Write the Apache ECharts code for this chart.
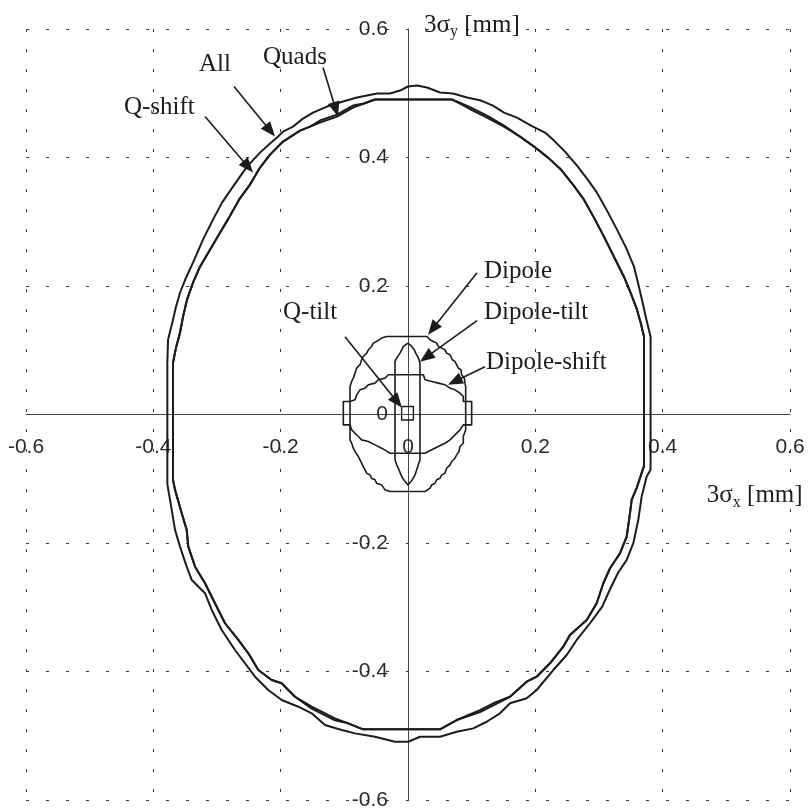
<!DOCTYPE html>
<html><head><meta charset="utf-8">
<script src="https://cdn.jsdelivr.net/npm/echarts@6/dist/echarts.min.js"></script>
<style>html,body{margin:0;padding:0;background:#fff}#c{width:808px;height:809px}</style>
</head><body><div id="c"></div>
<script>
// ---- axis ticks (mm) ----
const xTickValues = [-0.6, -0.4, -0.2, 0, 0.2, 0.4, 0.6];
const yTickValues = [-0.6, -0.4, -0.2, 0, 0.2, 0.4, 0.6];

// ---- envelopes: [3σx, 3σy] in mm ----
const allEnvelope = [
[-0.0126,0.5042],[0,0.5105],[0.0141,0.5120],[0.0298,0.5089],[0.0503,0.5011],[0.0707,0.4995],[0.0927,0.4933],[0.1147,0.4886],[0.1335,0.4808],[0.1508,0.4699],[0.1712,0.4621],[0.1932,0.4497],[0.2152,0.4388],[0.2293,0.4263],[0.2466,0.4092],[0.2654,0.3874],[0.2811,0.3671],[0.2968,0.3453],[0.3126,0.3173],[0.3283,0.2877],[0.3424,0.2597],[0.3550,0.2301],[0.3612,0.2052],[0.3675,0.1787],[0.3738,0.1506],[0.3810,0.1210],[0.3810,-0.0861],[0.3749,-0.0966],[0.3670,-0.1277],[0.3617,-0.1640],[0.3539,-0.2003],[0.3435,-0.2263],[0.3298,-0.2466],[0.3180,-0.2704],[0.3051,-0.2991],[0.2859,-0.3249],[0.2650,-0.3509],[0.2493,-0.3743],[0.2282,-0.3977],[0.2021,-0.4288],[0.1864,-0.4417],[0.1602,-0.4495],[0.1445,-0.4651],[0.1236,-0.4782],[0.1026,-0.4885],[0.0765,-0.4938],[0.0503,-0.5016],[0.0188,-0.5016],[0.0005,-0.5093],[-0.0204,-0.5093],[-0.0518,-0.5016],[-0.0832,-0.4963],[-0.1041,-0.4911],[-0.1304,-0.4833],[-0.1512,-0.4651],[-0.1723,-0.4548],[-0.1984,-0.4444],[-0.2194,-0.4288],[-0.2403,-0.4081],[-0.2560,-0.3872],[-0.2717,-0.3665],[-0.2926,-0.3354],[-0.3083,-0.3042],[-0.3188,-0.2782],[-0.3397,-0.2575],[-0.3476,-0.2368],[-0.3581,-0.2056],[-0.3659,-0.1796],[-0.3711,-0.1484],[-0.3765,-0.1173],[-0.3780,-0.1079],[-0.3780,0.0806],[-0.3769,0.1164],[-0.3691,0.1475],[-0.3644,0.1677],[-0.3581,0.1895],[-0.3487,0.2129],[-0.3377,0.2363],[-0.3220,0.2721],[-0.3063,0.3033],[-0.2921,0.3298],[-0.2749,0.3547],[-0.2529,0.3858],[-0.2324,0.4076],[-0.2167,0.4217],[-0.2057,0.4310],[-0.1963,0.4403],[-0.1806,0.4481],[-0.1649,0.4606],[-0.1492,0.4699],[-0.1272,0.4793],[-0.1021,0.4871],[-0.0801,0.4933],[-0.0644,0.4964],[-0.0487,0.4995],[-0.0283,0.4995],[-0.0126,0.5042]
];
const quadsEnvelope = [
[-0.0518,0.4902],[0.0691,0.4902],[0.0848,0.4824],[0.0989,0.4746],[0.1241,0.4621],[0.1508,0.4481],[0.1759,0.4326],[0.1979,0.4170],[0.2199,0.3998],[0.2403,0.3812],[0.2592,0.3578],[0.2764,0.3344],[0.2921,0.3064],[0.3078,0.2768],[0.3235,0.2456],[0.3392,0.2145],[0.3502,0.1880],[0.3597,0.1631],[0.3659,0.1413],[0.3707,0.1210],[0.3707,-0.0799],[0.3600,-0.1121],[0.3513,-0.1329],[0.3487,-0.1536],[0.3435,-0.1900],[0.3330,-0.2159],[0.3173,-0.2393],[0.3068,-0.2626],[0.2964,-0.2938],[0.2807,-0.3198],[0.2544,-0.3431],[0.2439,-0.3614],[0.2230,-0.3872],[0.2021,-0.4081],[0.1864,-0.4159],[0.1602,-0.4393],[0.1340,-0.4495],[0.1131,-0.4600],[0.0765,-0.4755],[0.0503,-0.4900],[-0.0707,-0.4900],[-0.0938,-0.4807],[-0.1147,-0.4729],[-0.1512,-0.4548],[-0.1775,-0.4393],[-0.1984,-0.4184],[-0.2141,-0.4132],[-0.2351,-0.3977],[-0.2508,-0.3717],[-0.2665,-0.3509],[-0.2874,-0.3249],[-0.2979,-0.3042],[-0.3110,-0.2782],[-0.3188,-0.2626],[-0.3345,-0.2368],[-0.3451,-0.2056],[-0.3476,-0.1796],[-0.3554,-0.1536],[-0.3659,-0.1173],[-0.3691,-0.1017],[-0.3691,0.0806],[-0.3644,0.1039],[-0.3581,0.1273],[-0.3534,0.1521],[-0.3471,0.1787],[-0.3377,0.2052],[-0.3267,0.2301],[-0.3110,0.2565],[-0.2953,0.2830],[-0.2811,0.3064],[-0.2654,0.3344],[-0.2482,0.3578],[-0.2324,0.3843],[-0.2167,0.4045],[-0.1963,0.4248],[-0.1696,0.4419],[-0.1539,0.4481],[-0.1382,0.4542],[-0.1115,0.4636],[-0.0864,0.4777],[-0.0691,0.4840],[-0.0518,0.4902]
];
const qShiftEnvelope = [
[-0.0518,0.4902],[0.0691,0.4902],[0.0848,0.4839],[0.0989,0.4777],[0.1241,0.4652],[0.1508,0.4497],[0.1759,0.4326],[0.1979,0.4170],[0.2199,0.3998],[0.2403,0.3812],[0.2592,0.3578],[0.2764,0.3344],[0.2921,0.3064],[0.3078,0.2768],[0.3235,0.2456],[0.3392,0.2145],[0.3502,0.1880],[0.3597,0.1631],[0.3659,0.1413],[0.3707,0.1210],[0.3707,-0.0799],[0.3600,-0.1121],[0.3513,-0.1329],[0.3487,-0.1536],[0.3435,-0.1900],[0.3330,-0.2159],[0.3173,-0.2393],[0.3068,-0.2626],[0.2964,-0.2938],[0.2807,-0.3198],[0.2544,-0.3431],[0.2439,-0.3614],[0.2230,-0.3872],[0.2021,-0.4081],[0.1864,-0.4159],[0.1602,-0.4393],[0.1340,-0.4526],[0.1131,-0.4631],[0.0765,-0.4755],[0.0503,-0.4900],[-0.0707,-0.4900],[-0.0938,-0.4807],[-0.1147,-0.4760],[-0.1512,-0.4579],[-0.1775,-0.4393],[-0.1984,-0.4184],[-0.2141,-0.4132],[-0.2351,-0.3977],[-0.2508,-0.3717],[-0.2665,-0.3509],[-0.2874,-0.3249],[-0.2979,-0.3042],[-0.3110,-0.2782],[-0.3188,-0.2626],[-0.3345,-0.2368],[-0.3451,-0.2056],[-0.3476,-0.1796],[-0.3554,-0.1536],[-0.3659,-0.1173],[-0.3691,-0.1017],[-0.3691,0.0806],[-0.3644,0.1039],[-0.3581,0.1273],[-0.3534,0.1521],[-0.3471,0.1787],[-0.3377,0.2052],[-0.3267,0.2301],[-0.3110,0.2565],[-0.2953,0.2830],[-0.2811,0.3064],[-0.2654,0.3344],[-0.2482,0.3578],[-0.2324,0.3843],[-0.2167,0.4045],[-0.1963,0.4248],[-0.1696,0.4419],[-0.1539,0.4481],[-0.1382,0.4575],[-0.1115,0.4668],[-0.0864,0.4808],[-0.0691,0.4840],[-0.0518,0.4902]
];
const dipoleEnvelope = [
[-0.0335,0.1215],[0.0293,0.1215],[0.0346,0.1163],[0.0398,0.1137],[0.0450,0.1111],[0.0476,0.1059],[0.0529,0.1033],[0.0581,0.1007],[0.0607,0.0955],[0.0660,0.0929],[0.0686,0.0903],[0.0696,0.0852],[0.0738,0.0826],[0.0764,0.0774],[0.0791,0.0722],[0.0832,0.0696],[0.0843,0.0618],[0.0885,0.0566],[0.0895,0.0488],[0.0906,0.0436],[0.0906,0.0202],[0.0906,-0.0239],[0.0869,-0.0343],[0.0869,-0.0447],[0.0817,-0.0498],[0.0801,-0.0576],[0.0764,-0.0628],[0.0738,-0.0680],[0.0686,-0.0732],[0.0660,-0.0784],[0.0607,-0.0836],[0.0581,-0.0914],[0.0529,-0.0940],[0.0503,-0.0992],[0.0450,-0.1017],[0.0424,-0.1070],[0.0372,-0.1096],[0.0346,-0.1147],[0.0267,-0.1199],[-0.0283,-0.1199],[-0.0361,-0.1173],[-0.0414,-0.1096],[-0.0492,-0.1070],[-0.0518,-0.1017],[-0.0571,-0.0992],[-0.0597,-0.0940],[-0.0649,-0.0914],[-0.0675,-0.0862],[-0.0702,-0.0810],[-0.0728,-0.0758],[-0.0754,-0.0706],[-0.0780,-0.0654],[-0.0832,-0.0576],[-0.0859,-0.0524],[-0.0885,-0.0447],[-0.0911,-0.0395],[-0.0911,0.0073],[-0.0911,0.0436],[-0.0885,0.0514],[-0.0859,0.0566],[-0.0832,0.0644],[-0.0806,0.0722],[-0.0754,0.0774],[-0.0728,0.0852],[-0.0702,0.0903],[-0.0649,0.0955],[-0.0623,0.1007],[-0.0571,0.1059],[-0.0545,0.1111],[-0.0492,0.1137],[-0.0466,0.1163],[-0.0414,0.1189],[-0.0335,0.1215]
];
const dipoleTiltEnvelope = [
[0,0.1111],[0.0058,0.1059],[0.0099,0.1007],[0.0120,0.0955],[0.0152,0.0903],[0.0173,0.0852],[0.0188,0.0800],[0.0188,-0.0706],[0.0162,-0.0784],[0.0136,-0.0862],[0.0110,-0.0940],[0.0068,-0.1017],[0,-0.1096],[-0.0068,-0.1017],[-0.0110,-0.0940],[-0.0141,-0.0862],[-0.0178,-0.0784],[-0.0204,-0.0706],[-0.0204,0.0826],[-0.0178,0.0877],[-0.0152,0.0903],[-0.0126,0.0955],[-0.0099,0.1007],[-0.0073,0.1059],[0,0.1111]
];
const dipoleShiftEnvelope = [
[-0.0309,0.0618],[0.0241,0.0618],[0.0267,0.0540],[0.0372,0.0514],[0.0476,0.0488],[0.0581,0.0462],[0.0660,0.0410],[0.0738,0.0384],[0.0817,0.0332],[0.0869,0.0280],[0.0869,0.0202],[0.1000,0.0202],[0.1000,-0.0161],[0.0869,-0.0161],[0.0817,-0.0239],[0.0738,-0.0317],[0.0660,-0.0395],[0.0581,-0.0447],[0.0476,-0.0498],[0.0372,-0.0550],[0.0267,-0.0602],[-0.0283,-0.0602],[-0.0309,-0.0576],[-0.0414,-0.0524],[-0.0518,-0.0473],[-0.0623,-0.0421],[-0.0728,-0.0395],[-0.0780,-0.0343],[-0.0832,-0.0291],[-0.0885,-0.0239],[-0.0911,-0.0161],[-0.1016,-0.0161],[-0.1016,0.0202],[-0.0911,0.0202],[-0.0832,0.0228],[-0.0806,0.0306],[-0.0754,0.0384],[-0.0675,0.0410],[-0.0623,0.0462],[-0.0518,0.0488],[-0.0466,0.0540],[-0.0361,0.0566],[-0.0309,0.0618]
];
const qTiltEnvelope = [
[-0.0100,0.0125],[0.0085,0.0125],[0.0085,-0.0085],[-0.0100,-0.0085],[-0.0100,0.0125]
];

// ---- annotation labels ----
const labelTexts = ['Quads', 'All', 'Q-shift', 'Q-tilt', 'Dipole', 'Dipole-tilt', 'Dipole-shift'];

// layout of annotations (data coords): text anchor, arrow tail, arrow tip
const annotLayout = [
  {t:[-0.2277,0.5556], a:[-0.1335,0.5400], b:[-0.1099,0.4637]},
  {t:[-0.3283,0.5447], a:[-0.2733,0.5104], b:[-0.2089,0.4326]},
  {t:[-0.4461,0.4777], a:[-0.3188,0.4637], b:[-0.2434,0.3765]},
  {t:[-0.1963,0.1585], a:[-0.0989,0.1210], b:[-0.0094,0.0104]},
  {t:[0.1194,0.2220], a:[0.1084,0.2207], b:[0.0314,0.1241]},
  {t:[0.1194,0.1585], a:[0.1084,0.1460], b:[0.0188,0.0821]},
  {t:[0.1225,0.0805], a:[0.1209,0.0743], b:[0.0628,0.0463]}
];

const ink = '#1c1c1c';
const GRID = {left:26, right:18, top:29, bottom:9};
const W = 808, H = 809;
const chart = echarts.init(document.getElementById('c'), null, {renderer:'canvas', width:W, height:H});
function envSeries(name, data, w){
  return {name, type:'line', data, showSymbol:false, symbol:'none', smooth:false,
    lineStyle:{color:ink, width:w, join:'round'}, silent:true, animation:false, z:3, clip:false};
}
function fmt(list){ return v=>{const t=list.find(u=>Math.abs(u-v)<1e-9); return t===undefined?'':String(t);}; }
const axisCommon = {
  type:'value', min:-0.6, max:0.6, interval:0.2,
  axisLine:{show:true, onZero:false, lineStyle:{color:'#444', width:1}},
  axisTick:{show:false},
  splitLine:{show:true, lineStyle:{color:'#3a3a3a', width:1, type:[3,17]}},
};
const gridW = W-GRID.left-GRID.right, gridH = H-GRID.top-GRID.bottom;
chart.setOption({
  animation:false,
  backgroundColor:'#fff',
  grid:Object.assign({containLabel:false, outerBoundsMode:'none'}, GRID),
  xAxis:Object.assign({}, axisCommon, {position:'bottom', offset:-gridH/2,
    axisLabel:{fontFamily:'Liberation Sans', fontSize:21, color:'#2a2a2a', margin:22, formatter:fmt(xTickValues)}
  }),
  yAxis:Object.assign({}, axisCommon, {position:'left', offset:-gridW/2,
    axisLabel:{fontFamily:'Liberation Sans', fontSize:21, color:'#2a2a2a', margin:20, formatter:fmt(yTickValues)}
  }),
  series:[
    envSeries('All', allEnvelope, 2),
    envSeries('Quads', quadsEnvelope, 2),
    envSeries('Q-shift', qShiftEnvelope, 2),
    envSeries('Dipole', dipoleEnvelope, 1.6),
    envSeries('Dipole-tilt', dipoleTiltEnvelope, 1.6),
    envSeries('Dipole-shift', dipoleShiftEnvelope, 1.6),
    envSeries('Q-tilt', qTiltEnvelope, 1.4)
  ]
});

function px(p){ return chart.convertToPixel({gridIndex:0}, p); }
const graphics = [];
const serif = 'Liberation Serif, Times New Roman, serif';
annotLayout.forEach((L, i)=>{
  const t = px(L.t), a = px(L.a), b = px(L.b);
  graphics.push({type:'text', x:t[0], y:t[1], z:10, silent:true,
    style:{text:labelTexts[i], font:'25px '+serif, fill:ink, textAlign:'left', textVerticalAlign:'middle'}});
  const dx=b[0]-a[0], dy=b[1]-a[1], len=Math.hypot(dx,dy), ux=dx/len, uy=dy/len;
  const hl=15, hw=6;
  const bx=b[0]-ux*hl, by=b[1]-uy*hl;
  graphics.push({type:'line', z:10, silent:true, shape:{x1:a[0], y1:a[1], x2:bx+ux*2, y2:by+uy*2},
    style:{stroke:ink, lineWidth:1.6}});
  graphics.push({type:'polygon', z:10, silent:true, shape:{points:[[b[0],b[1]],[bx-uy*hw,by+ux*hw],[bx+uy*hw,by-ux*hw]]},
    style:{fill:ink}});
});
// axis names
const o = px([0,0]);
const richName = {n:{font:'25px '+serif, fill:ink, lineHeight:30, verticalAlign:'middle'},
                  s:{font:'16px '+serif, fill:ink, lineHeight:14, verticalAlign:'bottom'}};
graphics.push({type:'text', x:o[0]+16, y:px([0,0.6])[1]-4, z:10, silent:true,
  style:{text:'{n|3σ}{s|y}{n| [mm]}', textAlign:'left', textVerticalAlign:'middle', rich:richName}});
graphics.push({type:'text', x:px([0.4694,0])[0], y:o[1]+81, z:10, silent:true,
  style:{text:'{n|3σ}{s|x}{n| [mm]}', textAlign:'left', textVerticalAlign:'middle', rich:richName}});
chart.setOption({graphic:graphics});
</script></body></html>
